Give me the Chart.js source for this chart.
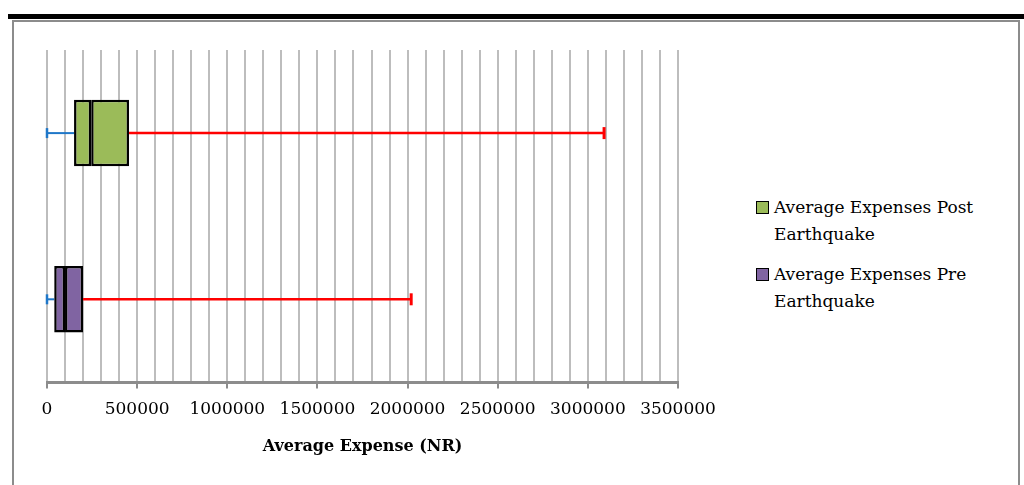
<!DOCTYPE html>
<html lang="en">
<head>
    <meta charset="UTF-8">
    <title>Average Expense</title>
    <script src="https://cdn.jsdelivr.net/npm/chart.js@4.4.0/dist/chart.umd.min.js"></script>
    <style>
        body {
            margin: 0;
            background: #fff;
            width: 1024px;
            height: 485px;
            overflow: hidden;
            position: relative;
            font-family: "DejaVu Serif", serif;
        }

        .topbar {
            position: absolute;
            left: 8px;
            top: 14px;
            width: 1016px;
            height: 5px;
            background: #000;
        }

        .frame {
            position: absolute;
            left: 12px;
            top: 20px;
            width: 1004px;
            height: 480px;
            border: 2px solid #8c8c8c;
        }

        .chart_box {
            position: absolute;
            left: 0;
            top: 0;
            width: 730px;
            height: 470px;
        }

        .legend {
            position: absolute;
            left: 756px;
            top: 194px;
            font-size: 17px;
            line-height: 27px;
            color: #000;
        }

        .legend .item {
            position: relative;
            padding-left: 18px;
            margin-bottom: 13px;
        }

        .legend .swatch {
            position: absolute;
            left: 0;
            top: 7px;
            width: 11px;
            height: 11px;
            border: 1.5px solid #000;
        }
    </style>
</head>
<body>
    <div class="topbar"></div>
    <div class="frame"></div>
    <div class="chart_box">
        <canvas id="boxplot"></canvas>
    </div>
    <div class="legend" id="legend"></div>

    <script>
        const categories = ['Average Expenses Post Earthquake', 'Average Expenses Pre Earthquake'];
        const minVals = [0, 0];
        const q1Vals = [150000, 40000];
        const medianVals = [245000, 100000];
        const q3Vals = [455000, 200000];
        const maxVals = [3090000, 2020000];
        const boxColors = ['#9bbb59', '#8064a2'];
        const legendLines = [['Average Expenses Post', 'Earthquake'], ['Average Expenses Pre', 'Earthquake']];

        // legend html
        const legend = document.getElementById('legend');
        legendLines.forEach((lines, i) => {
            const div = document.createElement('div');
            div.className = 'item';
            div.innerHTML = '<span class="swatch" style="background:' + boxColors[i] + '"></span>' + lines.join('<br>');
            legend.appendChild(div);
        });

        // whiskers drawn from the data through the scales
        const whiskers = {
            id: 'whiskers',
            beforeDatasetsDraw(chart) {
                const ctx = chart.ctx;
                const x = chart.scales.x;
                const y = chart.scales.y;
                ctx.save();
                categories.forEach((c, i) => {
                    const yc = y.getPixelForValue(i);
                    const xMin = x.getPixelForValue(minVals[i]);
                    const xQ1 = x.getPixelForValue(q1Vals[i]);
                    const xQ3 = x.getPixelForValue(q3Vals[i]);
                    const xMax = x.getPixelForValue(maxVals[i]);

                    ctx.strokeStyle = '#1f77c8';
                    ctx.lineWidth = 2;
                    ctx.beginPath();
                    ctx.moveTo(xMin, yc);
                    ctx.lineTo(xQ1, yc);
                    ctx.stroke();
                    ctx.lineWidth = 2.5;
                    ctx.beginPath();
                    ctx.moveTo(xMin, yc - 5);
                    ctx.lineTo(xMin, yc + 5);
                    ctx.stroke();

                    ctx.strokeStyle = '#ff0000';
                    ctx.lineWidth = 2.5;
                    ctx.beginPath();
                    ctx.moveTo(xQ3, yc);
                    ctx.lineTo(xMax, yc);
                    ctx.stroke();
                    ctx.lineWidth = 3;
                    ctx.beginPath();
                    ctx.moveTo(xMax, yc - 6);
                    ctx.lineTo(xMax, yc + 6);
                    ctx.stroke();
                });
                ctx.restore();
            }
        };

        const ctx = document.getElementById('boxplot');

        new Chart(ctx, {
            type: 'bar',
            data: {
                labels: categories,
                datasets: [{
                    label: 'Q1 - Median',
                    data: categories.map((c, i) => [q1Vals[i], medianVals[i]]),
                    backgroundColor: boxColors,
                    borderColor: '#000',
                    borderWidth: 2.5,
                    borderSkipped: false,
                    grouped: false,
                    barPercentage: 0.4,
                    categoryPercentage: 1
                }, {
                    label: 'Median - Q3',
                    data: categories.map((c, i) => [medianVals[i], q3Vals[i]]),
                    backgroundColor: boxColors,
                    borderColor: '#000',
                    borderWidth: 2.5,
                    borderSkipped: false,
                    grouped: false,
                    barPercentage: 0.4,
                    categoryPercentage: 1
                }]
            },
            options: {
                indexAxis: 'y',
                responsive: true,
                maintainAspectRatio: false,
                animation: false,
                layout: {
                    padding: { left: 47, right: 52, top: 50, bottom: 14 }
                },
                plugins: {
                    legend: { display: false },
                    tooltip: { enabled: false }
                },
                scales: {
                    x: {
                        min: 0,
                        max: 3500000,
                        border: { color: '#8c8c8c', width: 3 },
                        grid: {
                            color: '#bdbdbd',
                            lineWidth: 2,
                            tickLength: 6,
                            tickColor: c => (c.tick && c.tick.value % 500000 === 0) ? '#8c8c8c' : 'rgba(0,0,0,0)'
                        },
                        ticks: {
                            stepSize: 100000,
                            autoSkip: false,
                            maxRotation: 0,
                            padding: 11,
                            color: '#000',
                            font: { family: 'DejaVu Serif', size: 17 },
                            callback: v => v % 500000 === 0 ? String(v) : ''
                        },
                        title: {
                            display: true,
                            text: 'Average Expense (NR)',
                            color: '#000',
                            font: { family: 'DejaVu Serif', size: 16, weight: 'bold' },
                            padding: { top: 6, bottom: 0 }
                        }
                    },
                    y: {
                        display: false
                    }
                }
            },
            plugins: [whiskers]
        });
    </script>
</body>
</html>
